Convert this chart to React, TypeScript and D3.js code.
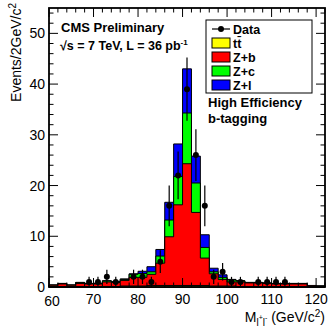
import React from "react";
import * as d3 from "d3";

const massBins = [60, 62, 64, 66, 68, 70, 72, 74, 76, 78, 80, 82, 84, 86, 88, 90, 92, 94, 96, 98, 100, 102, 104, 106, 108, 110, 112, 114, 116, 118, 120];
const binWidth = 2;

const ttbar = [0, 0, 0, 0.1, 0.1, 0.1, 0.1, 0.1, 0.2, 0.2, 0.2, 0.3, 0.3, 0.3, 0.3, 0.3, 0.3, 0.3, 0.2, 0.2, 0.2, 0.1, 0.1, 0.1, 0.1, 0.1, 0.1, 0.1, 0.1, 0, 0];
const zb = [0.35, 0.6, 0.35, 0.6, 0.5, 0.5, 0.9, 0.8, 1.1, 1.7, 1.7, 2.2, 4.4, 9.6, 15.9, 24.0, 14.4, 5.4, 2.4, 1.3, 0.8, 0.9, 0.7, 0.7, 0.6, 0.5, 0.5, 0.5, 0.5, 0.25, 0.2];
const zc = [0.05, 0.1, 0.05, 0.2, 0.1, 0.1, 0.2, 0.1, 0.2, 0.6, 0.75, 0.5, 1.4, 3.3, 5.6, 10.0, 5.8, 2.1, 0.4, 0.4, 0.4, 0.2, 0.1, 0.1, 0.1, 0.1, 0.1, 0.1, 0.1, 0.05, 0];
const zl = [0, 0, 0, 0, 0, 0.05, 0.05, 0.05, 0.1, 0.1, 0.45, 1.0, 1.3, 3.5, 6.4, 8.7, 5.3, 2.5, 0.7, 0.5, 0.1, 0.05, 0, 0, 0, 0, 0, 0, 0, 0, 0];
const dataCounts = [0, 0, 0, 0, 1, 1, 2, 1, 0, 2, 2, 1, 5, 16, 22, 39, 26, 16, 2, 3, 1, 1, 0, 1, 1, 1, 1, 0, 0, 0, 0];

const xTicks = [60, 70, 80, 90, 100, 110, 120];
const yTicks = [0, 10, 20, 30, 40, 50];

const components = [
  { name: "tt\u0304", values: ttbar, color: "#ffff00" },
  { name: "Z+b", values: zb, color: "#ff0000" },
  { name: "Z+c", values: zc, color: "#00ff00" },
  { name: "Z+l", values: zl, color: "#0000ff" },
];

const W = 329, H = 328;
const FONT = "'Liberation Sans', Arial, Helvetica, sans-serif";

export default function App() {
  const x = d3.scaleLinear().domain([60, 122]).range([49, 325]);
  const y = d3.scaleLinear().domain([0, 55]).range([287, 8]);

  const cumul: number[][] = [];
  let run = massBins.map(() => 0);
  components.forEach((c) => {
    run = run.map((v, i) => v + c.values[i]);
    cumul.push(run.slice());
  });

  const stepPath = (vals: number[]) => {
    const p = d3.path();
    p.moveTo(x(massBins[0]), y(0));
    vals.forEach((v, i) => {
      p.lineTo(x(massBins[i]), y(v));
      p.lineTo(x(massBins[i] + binWidth), y(v));
    });
    p.lineTo(x(massBins[massBins.length - 1] + binWidth), y(0));
    p.closePath();
    return p.toString();
  };

  const x0 = x.range()[0], x1 = x.range()[1];
  const y0 = y.range()[0], y1 = y.range()[1];

  const xMinor = d3.range(60, 122.01, 2);
  const yMinor = d3.range(0, 55.01, 2);

  const legendRows = [
    { label: "Data", kind: "data" },
    ...components.map((c) => ({ label: c.name, kind: "box", color: c.color })),
  ];

  return (
    <svg width={W} height={H} style={{ position: "absolute", left: 0, top: 0, background: "#fff" }} fontFamily={FONT}>
      <rect x={0} y={0} width={W} height={H} fill="#fff" />
      {cumul.map((vals, k) => ({ vals, k })).reverse().map(({ vals, k }) => (
        <path key={k} d={stepPath(vals)} fill={components[k].color} stroke="#000" strokeWidth={1} />
      ))}
      {dataCounts.map((n, i) => {
        if (n <= 0) return null;
        const cx = x(massBins[i] + binWidth / 2);
        const e = Math.sqrt(n);
        return (
          <g key={i}>
            <line x1={cx} x2={cx} y1={y(n - e)} y2={y(n + e)} stroke="#000" strokeWidth={1.2} />
            <circle cx={cx} cy={y(n)} r={3} fill="#000" />
          </g>
        );
      })}
      <rect x={x0} y={y1} width={x1 - x0} height={y0 - y1} fill="none" stroke="#000" strokeWidth={1.8} />
      {xMinor.map((t) => {
        const major = t % 10 === 0;
        const len = major ? 9 : 4.5;
        return (
          <g key={"xt" + t}>
            <line x1={x(t)} x2={x(t)} y1={y0} y2={y0 - len} stroke="#000" strokeWidth={1} />
            <line x1={x(t)} x2={x(t)} y1={y1} y2={y1 + len} stroke="#000" strokeWidth={1} />
          </g>
        );
      })}
      {yMinor.map((t) => {
        const major = t % 10 === 0;
        const len = major ? 9 : 4.5;
        return (
          <g key={"yt" + t}>
            <line x1={x0} x2={x0 + len} y1={y(t)} y2={y(t)} stroke="#000" strokeWidth={1} />
            <line x1={x1} x2={x1 - len} y1={y(t)} y2={y(t)} stroke="#000" strokeWidth={1} />
          </g>
        );
      })}
      {xTicks.map((t) => (
        <text key={"xl" + t} x={x(t) + (t === 60 ? 3 : 0)} y={t === 60 ? 306 : 304} textAnchor="middle" fontSize={14} fill="#000">{t}</text>
      ))}
      {yTicks.map((t) => (
        <text key={"yl" + t} x={45} y={y(t) + 5} textAnchor="end" fontSize={14} fill="#000">{t}</text>
      ))}
      <text transform={`translate(21,3) rotate(-90)`} textAnchor="end" fontSize={14} fill="#000">
        Events/2GeV/c<tspan dy={-5} fontSize={10}>2</tspan>
      </text>
      <text x={325} y={322} textAnchor="end" fontSize={14} fill="#000">
        M<tspan dy={4} fontSize={10}>l</tspan><tspan dy={-6} fontSize={7}>+</tspan><tspan dy={6} fontSize={10}>l</tspan><tspan dy={-6} fontSize={7}>-</tspan><tspan dy={2}> (GeV/c</tspan><tspan dy={-5} fontSize={10}>2</tspan><tspan dy={5}>)</tspan>
      </text>
      <text x={61} y={32} fontSize={13} fontWeight="bold" fill="#000">CMS Preliminary</text>
      <text x={60} y={50} fontSize={12.5} fontWeight="bold" fill="#000">
        √s = 7 TeV, L = 36 pb<tspan dy={-5} fontSize={8}>-1</tspan>
      </text>
      <text x={208} y={107} fontSize={13} fontWeight="bold" fill="#000">High Efficiency</text>
      <text x={208} y={123} fontSize={13} fontWeight="bold" fill="#000">b-tagging</text>
      <rect x={206} y={20} width={106} height={73} fill="#fff" stroke="#000" strokeWidth={1} />
      {legendRows.map((r: any, i) => {
        const cy = 29 + i * 14;
        return (
          <g key={"lg" + i}>
            {r.kind === "data" ? (
              <g>
                <line x1={212} x2={230} y1={cy} y2={cy} stroke="#000" strokeWidth={1.2} />
                <circle cx={221} cy={cy} r={3} fill="#000" />
              </g>
            ) : (
              <rect x={212} y={cy - 5} width={18} height={10} fill={r.color} stroke="#000" strokeWidth={1} />
            )}
            <text x={233} y={cy + 4.5} fontSize={12.5} fontWeight="bold" fill="#000">{r.label}</text>
          </g>
        );
      })}
    </svg>
  );
}
